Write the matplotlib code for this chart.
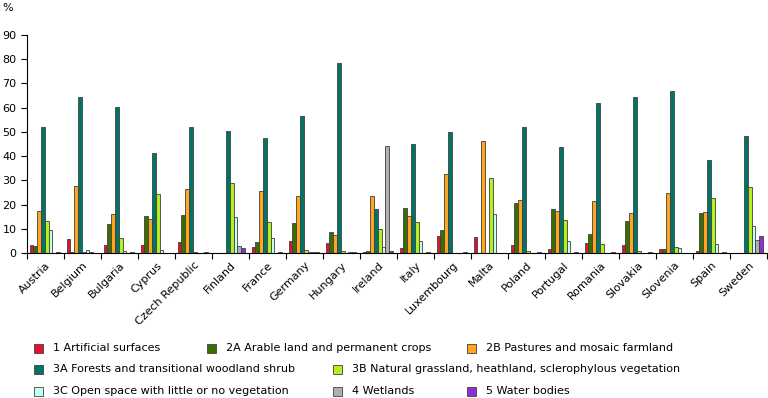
import numpy as np
import matplotlib
matplotlib.use('Agg')
import matplotlib.pyplot as plt
from matplotlib.patches import Rectangle

countries = ['Austria', 'Belgium', 'Bulgaria', 'Cyprus', 'Czech Republic', 'Finland',
             'France', 'Germany', 'Hungary', 'Ireland', 'Italy', 'Luxembourg', 'Malta',
             'Poland', 'Portugal', 'Romania', 'Slovakia', 'Slovenia', 'Spain', 'Sweden']

series_names = ['1 Artificial surfaces',
                '2A Arable land and permanent crops',
                '2B Pastures and mosaic farmland',
                '3A Forests and transitional woodland shrub',
                '3B Natural grassland, heathland, sclerophylous vegetation',
                '3C Open space with little or no vegetation',
                '4 Wetlands',
                '5 Water bodies']

s1 = [3.2, 5.6, 3.1, 3.1, 4.4, 0.2, 2.5, 5.1, 4.0, 0.3, 2.2, 7.2, 6.5, 3.3, 1.7, 4.0, 3.3, 1.6, 0.9, 0.2]
s2a = [2.8, 0.5, 11.8, 15.1, 15.5, 0.1, 4.4, 12.2, 8.8, 0.7, 18.4, 9.5, 0.0, 20.8, 18.0, 7.7, 13.2, 1.6, 16.4, 0.1]
s2b = [17.3, 27.6, 16.3, 14.2, 26.3, 0.1, 25.7, 23.4, 7.3, 23.4, 15.1, 32.6, 46.2, 21.9, 17.5, 21.6, 16.5, 24.8, 16.8, 0.2]
s3a = [52.0, 64.3, 60.3, 41.4, 52.1, 50.5, 47.3, 56.4, 78.3, 18.0, 45.1, 49.8, 0.0, 51.9, 43.9, 61.9, 64.3, 67.0, 38.5, 48.2]
s3b = [13.3, 0.3, 6.0, 24.2, 0.5, 28.9, 12.7, 1.1, 0.9, 9.8, 12.9, 0.1, 30.8, 0.7, 13.6, 3.7, 1.0, 2.6, 22.6, 27.4]
s3c = [9.3, 1.2, 1.0, 1.2, 0.1, 15.0, 6.3, 0.5, 0.1, 2.3, 5.1, 0.0, 16.0, 0.2, 4.8, 0.2, 0.2, 2.0, 3.6, 11.0]
s4 = [0.2, 0.5, 0.2, 0.2, 0.2, 2.7, 0.2, 0.4, 0.3, 44.0, 0.1, 0.1, 0.0, 0.1, 0.1, 0.1, 0.2, 0.1, 0.2, 5.5]
s5 = [0.5, 0.1, 0.5, 0.1, 0.3, 2.2, 0.3, 0.5, 0.3, 1.0, 0.3, 0.6, 0.0, 0.5, 0.4, 0.3, 0.3, 0.1, 0.5, 6.9]

colors = ['#E8102F', '#3A6E00', '#FFA51E', '#007466', '#B4F020', '#C4FFF4', '#B0B0B0', '#8A30D8']

plt.rcParams['font.family'] = 'DejaVu Sans'
fig = plt.figure(figsize=(7.68, 3.98), dpi=100)
ax = fig.add_axes([27 / 768, 1 - 253 / 398, 740 / 768, 218 / 398])

data = [s1, s2a, s2b, s3a, s3b, s3c, s4, s5]
x = np.arange(len(countries))
w = 0.102
for i, vals in enumerate(data):
    ax.bar(x + (i - 3.5) * w - 0.02, vals, width=w, color=colors[i],
           edgecolor='#404040', linewidth=0.6)

ax.set_xlim(-0.5, len(countries) - 0.5)
ax.set_ylim(0, 90)
ax.set_yticks(range(0, 91, 10))
ax.tick_params(axis='y', labelsize=8, length=4, width=0.8, direction='out')
# ticks between groups, labels under the group centres
ax.set_xticks(np.arange(-0.5, len(countries)), labels=[])
ax.set_xticks(x, labels=countries, minor=True)
ax.tick_params(axis='x', which='major', length=4, width=0.8, direction='out')
ax.tick_params(axis='x', which='minor', length=0, labelsize=8, pad=5)
for lbl in ax.get_xticklabels(minor=True):
    lbl.set_rotation(45)
    lbl.set_ha('right')
    lbl.set_va('top')
    lbl.set_rotation_mode('anchor')
for side in ['top', 'right']:
    ax.spines[side].set_visible(False)
ax.spines['left'].set_linewidth(0.8)
ax.spines['bottom'].set_linewidth(0.8)

fig.text(2 / 768, 1 - 8 / 398, '%', fontsize=8, va='center', ha='left')

# legend laid out by hand (rows of uneven width)
legend_pos = [(34, 348), (207, 348), (467, 348),
              (34, 369), (333, 369),
              (34, 391), (333, 391), (467, 391)]
for i, (px, py) in enumerate(legend_pos):
    fig.add_artist(Rectangle((px / 768, 1 - (py + 5) / 398), 9 / 768, 9 / 398,
                             transform=fig.transFigure, facecolor=colors[i],
                             edgecolor='#404040', linewidth=0.6))
    fig.text((px + 19) / 768, 1 - py / 398, series_names[i], fontsize=8,
             va='center', ha='left')

fig.savefig('out.png', dpi=100)
